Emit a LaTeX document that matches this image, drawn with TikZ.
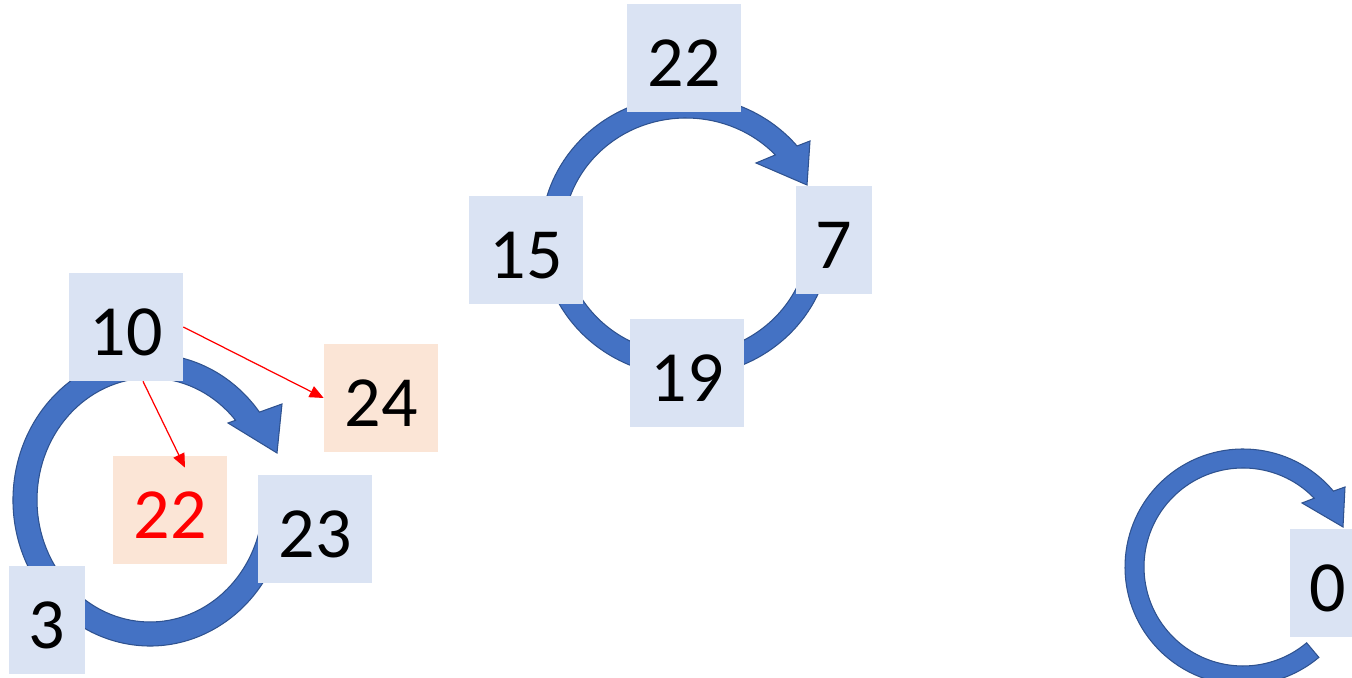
\documentclass[tikz,border=0pt]{standalone}
\usepackage{fontspec}
\setmainfont{Carlito}
\usetikzlibrary{arrows.meta}
\definecolor{myblue}{HTML}{DAE3F3}
\definecolor{mypeach}{HTML}{FBE5D6}
\definecolor{ringblue}{HTML}{4472C4}
\definecolor{ringedge}{HTML}{2F528F}
\tikzset{cell/.style={inner sep=0pt, minimum height=2.16cm, minimum width=2.28cm, text height=1.13cm, text depth=0pt, font=\fontsize{41}{49}\selectfont}}
\tikzset{B/.style={cell, fill=myblue}}
\tikzset{P/.style={cell, fill=mypeach}}
\tikzset{slim/.style={minimum width=1.52cm}}
\tikzset{ring/.style={fill=ringblue, draw=ringedge, line width=0.6pt}}
\tikzset{redarr/.style={red, line width=0.7pt, -{Triangle[length=0.28cm, width=0.24cm]}}}

\begin{document}
\begin{tikzpicture}[x=0.02cm, y=0.02cm]
\path [use as bounding box, clip] (0,0) rectangle (1352,678);
% rings
\begin{scope}[shift={(150,178)}]
  \filldraw [ring] (-10:137 and 146) arc [start angle=-10, end angle=-323, x radius=137, y radius=146]
    -- (132,96) -- (127,47) -- (78,77) -- (-319.2:113 and 122)
    arc [start angle=-319.2, end angle=-10, x radius=113, y radius=122] -- cycle;
\end{scope}
\begin{scope}[shift={(686,442)}]
  \filldraw [ring] (0:145 and 140) arc [start angle=0, end angle=-320, x radius=145, y radius=140]
    -- (124,95) -- (121,51) -- (70,73) -- (-316.6:123 and 118)
    arc [start angle=-316.6, end angle=0, x radius=123, y radius=118] -- cycle;
\end{scope}
\begin{scope}[shift={(1243,111)}]
  \filldraw [ring] (-50:118) arc [start angle=-50, end angle=-320, radius=118]
    -- (102,80) -- (100,40) -- (59,64) -- (-316:99)
    arc [start angle=-316, end angle=-50, radius=99] -- cycle;
\end{scope}
% left group
\node [B] (n10) at (126,351) {10};
\node [P] (n24) at (381,280) {24};
\node [P, text=red] (n22) at (170,168) {22};
\node [B] (n23) at (315,149) {23};
\node [B, slim] (n3) at (47,58) {3};
% middle group
\node [B] (m22) at (684,620) {22};
\node [B, slim] (m7) at (834,438) {7};
\node [B] (m15) at (526,428) {15};
\node [B] (m19) at (687,305) {19};
% right group
\node [B, slim] (r0) at (1328,95) {0};
\draw [redarr] (n10.east) -- (n24.west);
\draw [redarr] ([xshift=0.34cm]n10.south) -- ([xshift=0.3cm, yshift=-0.24cm]n22.north);
\end{tikzpicture}
\end{document}
